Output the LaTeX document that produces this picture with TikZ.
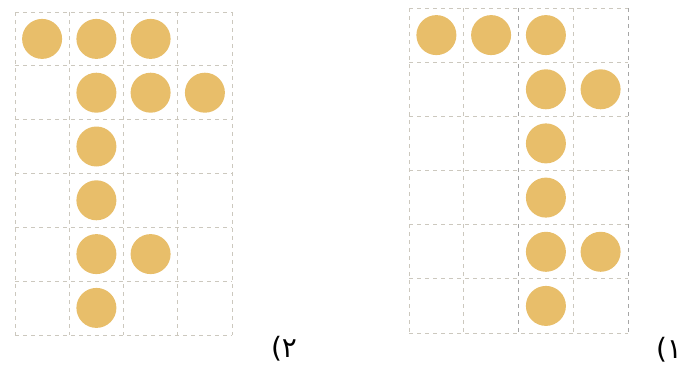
\documentclass[tikz,border=0pt]{standalone}
\usepackage{fontspec}
\newfontfamily\digitfont{DejaVu Sans}
\definecolor{dotgold}{RGB}{232,190,106}
\definecolor{cellgray}{RGB}{204,200,190}
\begin{document}
\begin{tikzpicture}
[x=0.75pt, y=-0.75pt, font=\digitfont\fontsize{21}{25}\selectfont]
\tikzstyle{dot}=[circle, fill=dotgold, inner sep=0mm, minimum size=30pt]
\tikzstyle{cell}=[cellgray, line width=0.7pt, dash pattern=on 3pt off 3pt]
\tikzstyle{darkcell}=[gray!70, line width=0.7pt, dash pattern=on 3pt off 3pt]
\useasboundingbox (0,0) rectangle (691,365);

% left grid (2)
\foreach \i in {0,...,4}
  \draw[cell] ({15+54.25*\i},12) -- ({15+54.25*\i},335);
\foreach \j in {0,...,6}
  \draw[cell] (15,{12+53.83*\j}) -- (232,{12+53.83*\j});

% right grid (1)
\foreach \i in {0,...,4}
  \draw[cell] ({409+54.75*\i},8) -- ({409+54.75*\i},333);
\foreach \j in {0,...,6}
  \draw[cell] (409,{8+54.17*\j}) -- (628,{8+54.17*\j});
\draw[darkcell] (518.5,8) -- (518.5,333);
\draw[darkcell] (628,8) -- (628,333);

% dots, left grid
\node[dot] (A1)  at (42.1,38.9)  {};
\node[dot] (A2)  at (96.4,38.9)  {};
\node[dot] (A3)  at (150.6,38.9) {};
\node[dot] (A4)  at (96.4,92.7)  {};
\node[dot] (A5)  at (150.6,92.7) {};
\node[dot] (A6)  at (204.9,92.7) {};
\node[dot] (A7)  at (96.4,146.5) {};
\node[dot] (A8)  at (96.4,200.3) {};
\node[dot] (A9)  at (96.4,254.1) {};
\node[dot] (A10) at (150.6,254.1) {};
\node[dot] (A11) at (96.4,307.9) {};

% dots, right grid
\node[dot] (B1)  at (436.4,35.1)  {};
\node[dot] (B2)  at (491.1,35.1)  {};
\node[dot] (B3)  at (545.9,35.1)  {};
\node[dot] (B4)  at (545.9,89.3)  {};
\node[dot] (B5)  at (600.6,89.3)  {};
\node[dot] (B6)  at (545.9,143.4) {};
\node[dot] (B7)  at (545.9,197.6) {};
\node[dot] (B8)  at (545.9,251.8) {};
\node[dot] (B9)  at (600.6,251.8) {};
\node[dot] (B10) at (545.9,305.9) {};

% labels
\node (L2) at (284,349) {\mbox{(}\mbox{۲}};
\node (L1) at (669,350) {\mbox{(}\mbox{۱}};
\end{tikzpicture}
\end{document}
